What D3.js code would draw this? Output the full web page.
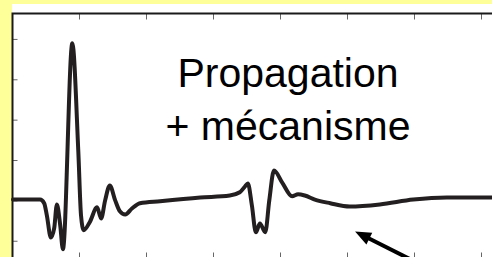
<!DOCTYPE html>
<html>
<head>
<meta charset="utf-8">
<script src="https://cdn.jsdelivr.net/npm/d3@7"></script>
<style>
  html, body { margin: 0; padding: 0; background: #ffff99; }
  svg { display: block; }
</style>
</head>
<body>
<div id="chart"></div>
<script>
// Signal trace (time in ms, amplitude in arbitrary units)
var time = [0.15, 4.2, 4.8, 5.2, 5.8, 6.3, 6.7, 7.2, 7.6, 9.0, 9.9, 10.3, 10.7,
  11.6, 12.7, 13.3, 13.9, 14.6, 15.4, 16.1, 16.9, 17.9, 19.1, 22.1, 28.1, 32.5,
  34.0, 34.8, 35.2, 35.8, 36.4, 37.0, 37.8, 38.4, 39.1, 40.4, 41.8, 42.7, 43.7,
  45.2, 47.5, 50.4, 54.9, 59.9, 64.9, 71.6, 72.8];
var amplitude = [0.02, 0.02, -0.07, -0.37, -0.92, -0.69, -0.10, -0.62, -1.21, 3.89,
  1.20, -0.37, -0.74, -0.54, -0.17, -0.45, 0.0, 0.37, 0.0, -0.27, -0.35, -0.20,
  -0.07, -0.02, 0.07, 0.12, 0.20, 0.35, 0.42, -0.12, -0.79, -0.57, -0.79, 0.0,
  0.74, 0.42, 0.10, 0.15, 0.12, 0.02, -0.07, -0.15, -0.10, 0.02, 0.07, 0.07, 0.07];

var xTicks = [0, 10, 20, 30, 40, 50, 60, 70];
var yTicks = [-1, 0, 1, 2, 3, 4];

// annotation arrow: [tail, tip] in data units
var arrowFrom = [60.3, -1.53];
var arrowTo = [51.2, -0.77];
var labelLines = ['Propagation', '+ mécanisme'];

var W = 492, H = 257;
var box = {left: 12.5, top: 13.5, right: 494, bottom: 258.5};

var svg = d3.select('#chart').append('svg')
  .attr('width', W)
  .attr('height', H);

svg.append('rect')
  .attr('x', 0).attr('y', 0).attr('width', W).attr('height', H)
  .attr('fill', '#ffff99');

// white figure background
svg.append('rect')
  .attr('x', 12).attr('y', 4).attr('width', W).attr('height', H)
  .attr('fill', '#ffffff');

var x = d3.scaleLinear().domain([0, 72]).range([box.left - 0.5, box.left - 0.5 + 72 * 6.7]);
var y = d3.scaleLinear().domain([-1.44, 4.63]).range([box.bottom, box.top]);

// ticks (inward, no labels)
var tickCol = '#666';
var gTop = svg.append('g').attr('transform', 'translate(0,' + box.top + ')')
  .call(d3.axisTop(x).tickValues(xTicks.slice(1)).tickSize(-6).tickFormat(''));
var gBot = svg.append('g').attr('transform', 'translate(0,' + box.bottom + ')')
  .call(d3.axisBottom(x).tickValues(xTicks.slice(1)).tickSize(-6).tickFormat(''));
var gLeft = svg.append('g').attr('transform', 'translate(' + box.left + ',0)')
  .call(d3.axisLeft(y).tickValues(yTicks).tickSize(-5).tickFormat(''));
[gTop, gBot, gLeft].forEach(function(g) {
  g.select('.domain').remove();
  g.selectAll('line').attr('stroke', tickCol).attr('stroke-width', 1);
});

// axes box
svg.append('path')
  .attr('d', 'M' + box.left + ',' + box.bottom + 'V' + box.top + 'H' + box.right)
  .attr('fill', 'none')
  .attr('stroke', '#1a1a1a')
  .attr('stroke-width', 2);

// waveform
var pts = time.map(function(t, i) { return [t, amplitude[i]]; });
var line = d3.line()
  .x(function(d) { return x(d[0]); })
  .y(function(d) { return y(d[1]); })
  .curve(d3.curveMonotoneX);

svg.append('path')
  .datum(pts)
  .attr('d', line)
  .attr('fill', 'none')
  .attr('stroke', '#231f20')
  .attr('stroke-width', 4)
  .attr('stroke-linejoin', 'round')
  .attr('stroke-linecap', 'round');

// label
svg.append('text')
  .attr('x', 288)
  .attr('y', 87)
  .attr('text-anchor', 'middle')
  .style('font-family', 'Liberation Sans, Arial, sans-serif')
  .style('font-size', '41px')
  .attr('fill', '#000')
  .selectAll('tspan')
  .data(labelLines)
  .enter()
  .append('tspan')
  .attr('x', 288)
  .attr('dy', function(d, i) { return i === 0 ? 0 : 53; })
  .text(function(d) { return d; });

// arrow
var x0 = x(arrowFrom[0]), y0 = y(arrowFrom[1]);
var x1 = x(arrowTo[0]), y1 = y(arrowTo[1]);
var dx = x0 - x1, dy = y0 - y1, len = Math.sqrt(dx * dx + dy * dy);
var ux = dx / len, uy = dy / len;
var headL = 16, headW = 6.5;
var bx = x1 + ux * headL, by = y1 + uy * headL;

svg.append('line')
  .attr('x1', x0).attr('y1', y0)
  .attr('x2', bx - ux * 2).attr('y2', by - uy * 2)
  .attr('stroke', '#000')
  .attr('stroke-width', 4);

svg.append('polygon')
  .attr('points', [
    [x1, y1],
    [bx - uy * headW, by + ux * headW],
    [bx + uy * headW, by - ux * headW]
  ].map(function(p) { return p.join(','); }).join(' '))
  .attr('fill', '#000');
</script>
</body>
</html>
